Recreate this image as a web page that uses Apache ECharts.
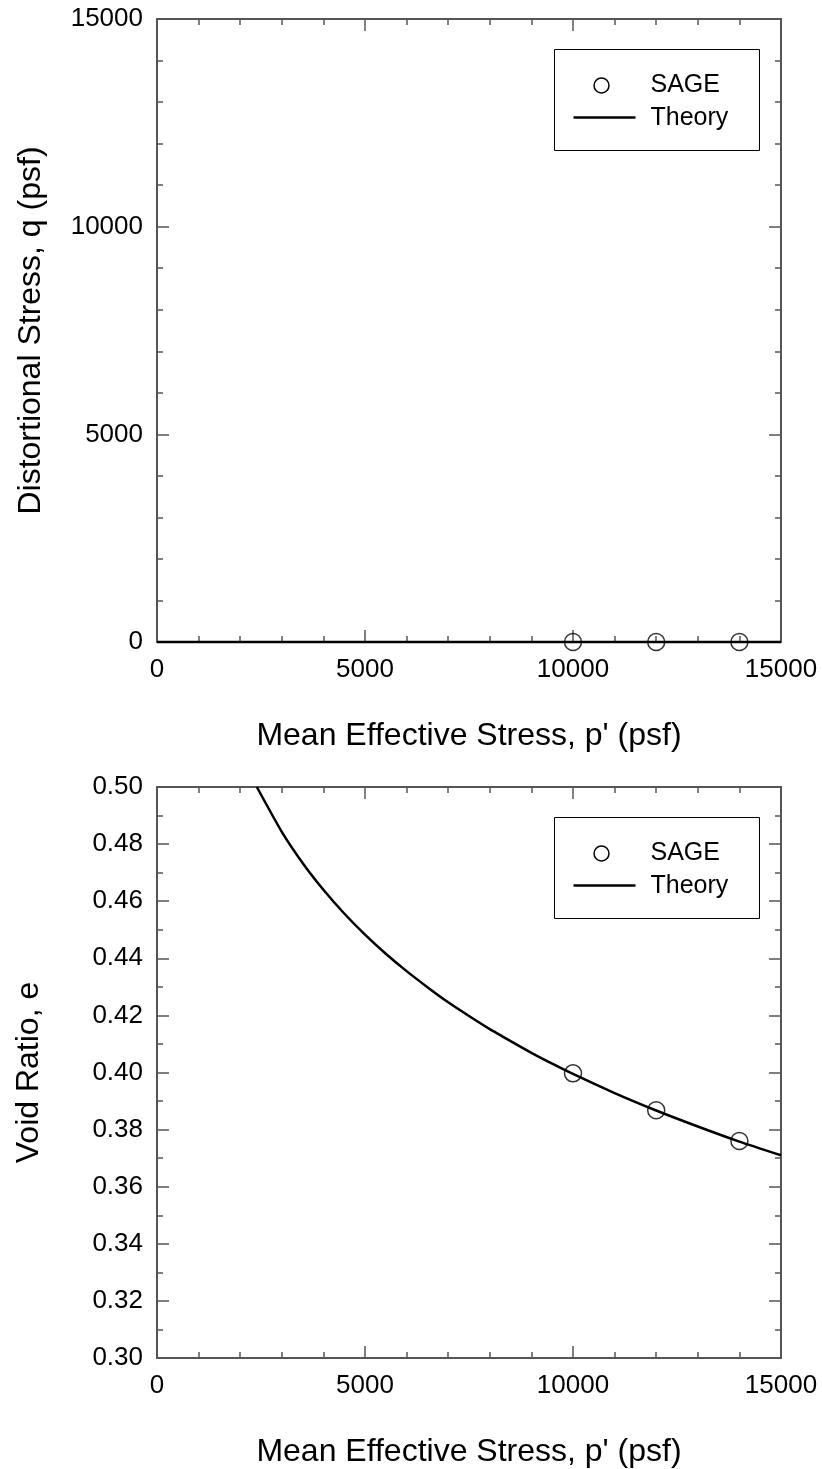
<!DOCTYPE html>
<html>
<head>
<meta charset="utf-8">
<script src="https://cdn.jsdelivr.net/npm/echarts@6/dist/echarts.min.js"></script>
<style>
  html, body { margin: 0; padding: 0; background: #fff; }
  #chart { width: 822px; height: 1469px; }
</style>
</head>
<body>
<div id="chart"></div>
<script>
// SAGE results at three confining levels
const sageP = [10000, 12000, 14000];
const sageQ = [0, 0, 0];
const sageE = [0.3997, 0.3868, 0.3760];

// Theoretical isotropic compression: q stays zero, e follows the NCL
const theoryQP = [0, 15000];
const theoryQ = [0, 0];
const theoryP = [2400, 3000, 3500, 4000, 4500, 5000, 5500, 6000, 6500, 7000, 7500,
                 8000, 8500, 9000, 9500, 10000, 11000, 12000, 13000, 14000, 15000];
const theoryE = [0.5000, 0.4843, 0.4734, 0.4640, 0.4557, 0.4483, 0.4416, 0.4355, 0.4299, 0.4246, 0.4198,
                 0.4152, 0.4110, 0.4069, 0.4031, 0.3995, 0.3928, 0.3867, 0.3811, 0.3758, 0.3710];

const xTitle = "Mean Effective Stress, p' (psf)";
const qTitle = 'Distortional Stress, q (psf)';
const eTitle = 'Void Ratio, e';
const legendNames = ['SAGE', 'Theory'];

const FONT = '"Liberation Sans", Arial, sans-serif';
const AXIS_COLOR = '#555';
const TICK_FONT = 26;

const zip = (a, b) => a.map((v, i) => [v, b[i]]);
const plain = v => String(v);

function baseAxis(extra) {
  return Object.assign({
    type: 'value',
    axisLine: { show: true, onZero: false, lineStyle: { color: AXIS_COLOR, width: 2 } },
    axisTick: { show: true, inside: true, length: 12, lineStyle: { color: AXIS_COLOR, width: 1.5 } },
    splitLine: { show: false },
    minorSplitLine: { show: false },
    nameTextStyle: { color: '#000', fontFamily: FONT, fontSize: 32 },
    nameLocation: 'middle'
  }, extra);
}

function pAxis(gridIndex, position, showLabels) {
  return baseAxis({
    gridIndex, position, min: 0, max: 15000, interval: 5000,
    minorTick: { show: true, splitNumber: 5, length: 6, lineStyle: { color: AXIS_COLOR, width: 1.5 } },
    axisLabel: { show: showLabels, color: '#000', fontFamily: FONT, fontSize: TICK_FONT, margin: 15, formatter: plain },
    name: showLabels ? xTitle : '',
    nameGap: 78
  });
}

const grids = [
  { left: 157, top: 19, width: 624, height: 623 },
  { left: 157, top: 787, width: 624, height: 576 }
];

const xAxes = [
  pAxis(0, 'bottom', true), pAxis(0, 'top', false),
  pAxis(1, 'bottom', true), pAxis(1, 'top', false)
];

const qMinor = { show: true, splitNumber: 5, length: 6, lineStyle: { color: AXIS_COLOR, width: 1.5 } };
const eMinor = { show: true, splitNumber: 2, length: 6, lineStyle: { color: AXIS_COLOR, width: 1.5 } };

const yAxes = [
  baseAxis({ gridIndex: 0, position: 'left', min: 0, max: 15000, interval: 5000, minorTick: qMinor,
    axisLabel: { color: '#000', fontFamily: FONT, fontSize: TICK_FONT, margin: 14, formatter: plain },
    name: qTitle, nameGap: 110 }),
  baseAxis({ gridIndex: 0, position: 'right', min: 0, max: 15000, interval: 5000, minorTick: qMinor,
    axisLabel: { show: false } }),
  baseAxis({ gridIndex: 1, position: 'left', min: 0.30, max: 0.50, interval: 0.02, minorTick: eMinor,
    axisLabel: { color: '#000', fontFamily: FONT, fontSize: TICK_FONT, margin: 14,
      formatter: v => v.toFixed(2) },
    name: eTitle, nameGap: 112 }),
  baseAxis({ gridIndex: 1, position: 'right', min: 0.30, max: 0.50, interval: 0.02, minorTick: eMinor,
    axisLabel: { show: false } })
];

const lineStyle = { color: '#000', width: 2.5 };
const circleStyle = { color: 'rgba(0,0,0,0)', borderColor: '#000', borderWidth: 1.5 };

const series = [
  { type: 'line', xAxisIndex: 0, yAxisIndex: 0, data: zip(theoryQP, theoryQ),
    showSymbol: false, lineStyle, clip: false, z: 3, silent: true },
  { type: 'scatter', xAxisIndex: 0, yAxisIndex: 0, data: zip(sageP, sageQ),
    symbol: 'circle', symbolSize: 17, itemStyle: circleStyle, clip: false, z: 4 },
  { type: 'line', xAxisIndex: 2, yAxisIndex: 2, data: zip(theoryP, theoryE),
    showSymbol: false, smooth: 0.2, lineStyle, z: 3, silent: true },
  { type: 'scatter', xAxisIndex: 2, yAxisIndex: 2, data: zip(sageP, sageE),
    symbol: 'circle', symbolSize: 17, itemStyle: circleStyle, z: 4 }
];

// Boxed legend drawn in the upper right of each panel
function legendBox(top) {
  return {
    type: 'group', left: 554, top: top,
    children: [
      { type: 'rect', shape: { x: 0, y: 0, width: 205, height: 101 },
        style: { fill: '#fff', stroke: '#000', lineWidth: 1 } },
      { type: 'circle', shape: { cx: 47, cy: 36, r: 7.5 },
        style: { fill: 'none', stroke: '#000', lineWidth: 1.5 } },
      { type: 'line', shape: { x1: 19, y1: 68, x2: 81, y2: 68 },
        style: { stroke: '#000', lineWidth: 2.5 } },
      { type: 'text', x: 96, y: 36,
        style: { text: legendNames[0], font: '25px ' + FONT, fill: '#000', verticalAlign: 'middle' } },
      { type: 'text', x: 96, y: 69,
        style: { text: legendNames[1], font: '25px ' + FONT, fill: '#000', verticalAlign: 'middle' } }
    ]
  };
}

const chart = echarts.init(document.getElementById('chart'), null, { renderer: 'canvas' });
chart.setOption({
  backgroundColor: '#fff',
  animation: false,
  grid: grids,
  xAxis: xAxes,
  yAxis: yAxes,
  series,
  graphic: [legendBox(49), legendBox(817)]
});
</script>
</body>
</html>
